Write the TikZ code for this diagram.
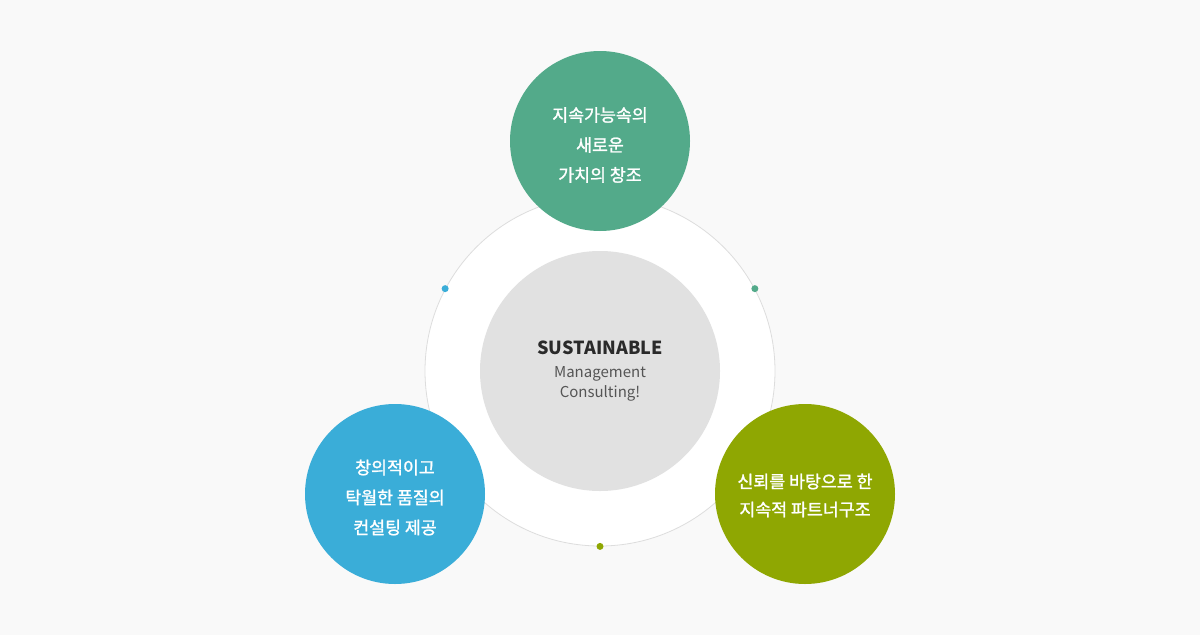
\documentclass[tikz,border=0pt]{standalone}
\usepackage{fontspec}
\setmainfont{Noto Sans CJK KR}
\newfontfamily\krfont[FakeBold=1.4]{Noto Sans CJK KR}
\definecolor{bgc}{HTML}{F9F9F9}
\definecolor{ringc}{HTML}{DDDDDD}
\definecolor{corec}{HTML}{E1E1E1}
\definecolor{greenc}{HTML}{53AA8A}
\definecolor{bluec}{HTML}{3AADD8}
\definecolor{olivec}{HTML}{8FA702}
\definecolor{titlec}{HTML}{2A2A2A}
\definecolor{subc}{HTML}{555555}
\tikzset{
  petal/.style={circle, minimum size=180pt, inner sep=0pt},
  petaltext/.style={text=white, align=center, inner sep=0pt,
    font=\krfont\fontsize{17.3}{30}\selectfont},
  dotmark/.style={circle, minimum size=7pt, inner sep=0pt},
}
\begin{document}
\begin{tikzpicture}[x=1pt,y=-1pt]
\fill[bgc] (0,0) rectangle (1200,635);
\useasboundingbox (0,0) rectangle (1200,635);
\node[circle, minimum size=350pt, inner sep=0pt, fill=white, draw=ringc, line width=0.8pt] (ring) at (600,371) {};
\node[circle, minimum size=240pt, inner sep=0pt, fill=corec] (core) at (600,371) {};
\node[text=titlec, font=\bfseries\fontsize{18}{20}\selectfont] (title) at (600,348) {SUSTAINABLE};
\node[text=subc, font=\fontsize{15}{20}\selectfont, align=center] (sub) at (600,384) {Management\\Consulting!};
\node[petal, fill=greenc] (top) at (600,141) {};
\node[petal, fill=bluec] (left) at (395,494) {};
\node[petal, fill=olivec] (right) at (805,494) {};
\node[petaltext] (toptext) at ([yshift=-4pt]top.center) {지속가능속의\\새로운\\가치의 창조};
\node[petaltext] (lefttext) at ([yshift=-3.5pt]left.center) {창의적이고\\탁월한 품질의\\컨설팅 제공};
\node[petaltext, font=\krfont\fontsize{17.3}{28}\selectfont] (righttext) at ([yshift=-1.5pt]right.center) {신뢰를 바탕으로 한\\지속적 파트너구조};
\node[dotmark, fill=bluec] (d1) at (ring.152) {};
\node[dotmark, fill=greenc] (d2) at (ring.28) {};
\node[dotmark, fill=olivec] (d3) at (ring.270) {};
\end{tikzpicture}
\end{document}
